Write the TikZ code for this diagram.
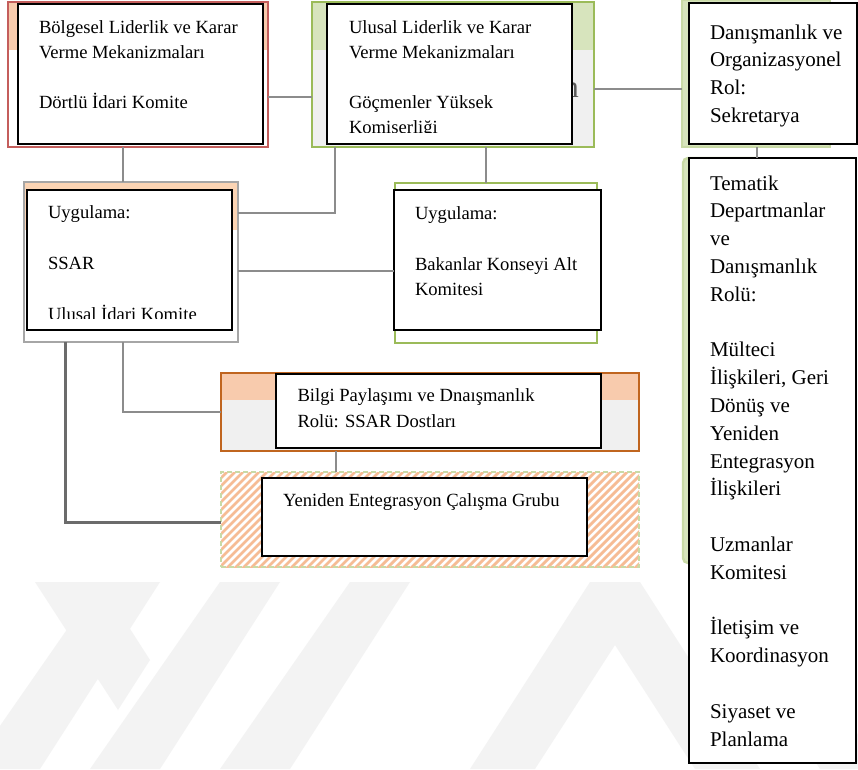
\documentclass[tikz,border=0pt]{standalone}
\usepackage{fontspec}
\setmainfont{Liberation Serif}
\definecolor{redB}{HTML}{C45E5C}
\definecolor{greenB}{HTML}{9BBB59}
\definecolor{greenL}{HTML}{C9DAA6}
\definecolor{bandGreen}{HTML}{D7E4BD}
\definecolor{bandOrange}{HTML}{F8CBAD}
\definecolor{bandOrangeD}{HTML}{FBD4B4}
\definecolor{lightGrayF}{HTML}{F0F0F0}
\definecolor{grayB}{HTML}{A6A6A6}
\definecolor{brownB}{HTML}{C0651F}
\definecolor{hatchOrange}{HTML}{F6BC95}
\definecolor{lineGray}{HTML}{8C8C8C}
\definecolor{lineDark}{HTML}{6B6B6B}
\definecolor{nGray}{HTML}{595959}
\definecolor{wmGray}{HTML}{F3F3F3}
\begin{document}
\begin{tikzpicture}[x=1pt,y=-1pt,
  wbox/.style={rectangle,draw=black,line width=1.6pt,fill=white,inner sep=0pt,outer sep=0pt,anchor=north west},
  bg/.style={rectangle,inner sep=0pt,outer sep=0pt,anchor=north west,line width=2.4pt},
  conn/.style={draw=lineGray,line width=1.8pt},
  txtA/.style={anchor=north west,inner sep=0pt,outer sep=0pt,align=left,font=\fontsize{18.6}{25}\selectfont},
  txt/.style={anchor=north west,inner sep=0pt,outer sep=0pt,align=left,font=\fontsize{18.6}{25.5}\selectfont},
  txtbig/.style={anchor=north west,inner sep=0pt,outer sep=0pt,align=left,font=\fontsize{21}{27.8}\selectfont},
  hatchline/.style={draw=hatchOrange,line width=2.8pt},
  wm/.style={fill=wmGray,draw=none}]
\useasboundingbox (0,0) rectangle (858,769);
\fill[white] (0,0) rectangle (858,769);

% watermark
\path[wm] (35,582) -- (100,582) -- (150,660) -- (118,710) -- cycle;
\path[wm] (-30,769) -- (40,769) -- (160,582) -- (100,582) -- cycle;
\path[wm] (90,769) -- (160,769) -- (280,582) -- (220,582) -- cycle;
\path[wm] (220,769) -- (290,769) -- (410,582) -- (350,582) -- cycle;
\path[wm] (470,769) -- (535,769) -- (615,645) -- (695,769) -- (760,769) -- (640,582) -- (590,582) -- cycle;
\path[wm] (700,582) -- (760,582) -- (880,769) -- (820,769) -- cycle;

% background boxes
\node[bg,draw=redB,fill=white,minimum width=260pt,minimum height=145pt,
  path picture={\fill[bandOrange] (path picture bounding box.north west) rectangle ++(400,48);}] (Aback) at (8,2) {};
\node[bg,draw=greenB,fill=lightGrayF,minimum width=282pt,minimum height=145pt,
  path picture={\fill[bandGreen] (path picture bounding box.north west) rectangle ++(400,48);}] (Bback) at (312,2) {};
\node[bg,draw=greenL,fill=bandGreen,minimum width=148pt,minimum height=147pt] (Cback) at (682,0) {};
\node[bg,draw=grayB,fill=white,minimum width=214pt,minimum height=160pt,
  path picture={\fill[bandOrangeD] (path picture bounding box.north west) rectangle ++(400,48);}] (Dback) at (24,182) {};
\node[bg,draw=greenB,fill=white,minimum width=202pt,minimum height=160pt] (Eback) at (395,183) {};
\node[bg,draw=brownB,fill=lightGrayF,minimum width=418pt,minimum height=78pt,
  path picture={\fill[bandOrange] (path picture bounding box.north west) rectangle ++(500,27);}] (Fback) at (221,373) {};
\begin{scope}
\clip (221,472) rectangle (639,567);
\fill[white] (221,472) rectangle (639,567);
\foreach \i in {0,8,...,528} {\draw[hatchline] (121+\i,570) -- (221+\i,470);}
\end{scope}
\node[bg,draw=greenL,line width=1.6pt,dash pattern=on 5pt off 3pt,
  minimum width=418pt,minimum height=95pt] (Gback) at (221,472) {};
\node[bg,draw=greenL,fill=bandGreen,rounded corners=5pt,minimum width=80pt,minimum height=405pt] (Hback) at (683,158) {};

\node[anchor=base east,inner sep=0pt,text=nGray,font=\fontsize{31}{31}\selectfont] (ghost) at (579,97) {n};

% white boxes
\node[wbox,minimum width=245pt,minimum height=140pt] (A) at (18,4) {};
\node[wbox,minimum width=245pt,minimum height=140pt] (B) at (327,4) {};
\node[wbox,minimum width=168pt,minimum height=141pt] (C) at (689,3) {};
\node[wbox,minimum width=205pt,minimum height=140pt] (D) at (27,190) {};
\node[wbox,minimum width=207pt,minimum height=140pt] (E) at (394,190) {};
\node[wbox,minimum width=325pt,minimum height=74pt] (F) at (276,374) {};
\node[wbox,minimum width=325pt,minimum height=78pt] (G) at (262,478) {};
\node[wbox,minimum width=167pt,minimum height=605pt] (H) at (689,158) {};

% texts
\node[txtA] (tA) at (39,15.5) {\strut Bölgesel Liderlik ve Karar\\\strut Verme Mekanizmaları\\\strut\\\strut Dörtlü İdari Komite};
\begin{scope}
\clip (327,4) rectangle (572,132.5);
\node[txtA] (tB) at (349,15.5) {\strut Ulusal Liderlik ve Karar\\\strut Verme Mekanizmaları\\\strut\\\strut Göçmenler Yüksek\\\strut Komiserliği};
\end{scope}
\node[txtbig] (tC) at (710,19.54) {\strut Danışmanlık ve\\\strut Organizasyonel\\\strut Rol:\\\strut Sekretarya};
\begin{scope}
\clip (27,190) rectangle (232,318.5);
\node[txt] (tD) at (48,200.15) {\strut Uygulama:\\\strut\\\strut SSAR\\\strut\\\strut Ulusal İdari Komite};
\end{scope}
\node[txt] (tE) at (415,201.15) {\strut Uygulama:\\\strut\\\strut Bakanlar Konseyi Alt\\\strut Komitesi};
\node[txt] (tF) at (297.5,383.65) {\strut Bilgi Paylaşımı ve Dnaışmanlık\\\strut Rolü: SSAR Dostları};
\node[txt] (tG) at (283,488.15) {\strut Yeniden Entegrasyon Çalışma Grubu};
\node[txtbig] (tH) at (710,170.54) {\strut Tematik\\\strut Departmanlar\\\strut ve\\\strut Danışmanlık\\\strut Rolü:\\\strut\\\strut Mülteci\\\strut İlişkileri, Geri\\\strut Dönüş ve\\\strut Yeniden\\\strut Entegrasyon\\\strut İlişkileri\\\strut\\\strut Uzmanlar\\\strut Komitesi\\\strut\\\strut İletişim ve\\\strut Koordinasyon\\\strut\\\strut Siyaset ve\\\strut Planlama};

% connector helpers
\coordinate (h1) at (0,97);
\coordinate (h2) at (0,89);
\coordinate (h4) at (0,213);
\coordinate (h6) at (0,271);
\coordinate (h7) at (0,412);
\coordinate (h8) at (0,522);
\coordinate (v1) at (123,0);
\coordinate (v2) at (335,0);
\coordinate (v3) at (486,0);
\coordinate (v8) at (65,0);
\coordinate (v9) at (336,0);
\coordinate (v10) at (757,0);

% connectors
\draw[conn] (Aback.east |- h1) -- (Bback.west |- h1);
\draw[conn] (Bback.east |- h2) -- (Cback.west |- h2);
\draw[conn] (Aback.south -| v1) -- (Dback.north -| v1);
\draw[conn] (Bback.south -| v2) |- (Dback.east |- h4);
\draw[conn] (Bback.south -| v3) -- (Eback.north -| v3);
\draw[conn] (Dback.east |- h6) -- (E.west |- h6);
\draw[conn] (Dback.south -| v1) |- (Fback.west |- h7);
\draw[conn,draw=lineDark,line width=3pt] (Dback.south -| v8) |- (Gback.west |- h8);
\draw[conn] (Fback.south -| v9) -- (Gback.north -| v9);
\draw[conn] (Cback.south -| v10) -- (H.north -| v10);
\end{tikzpicture}
\end{document}
